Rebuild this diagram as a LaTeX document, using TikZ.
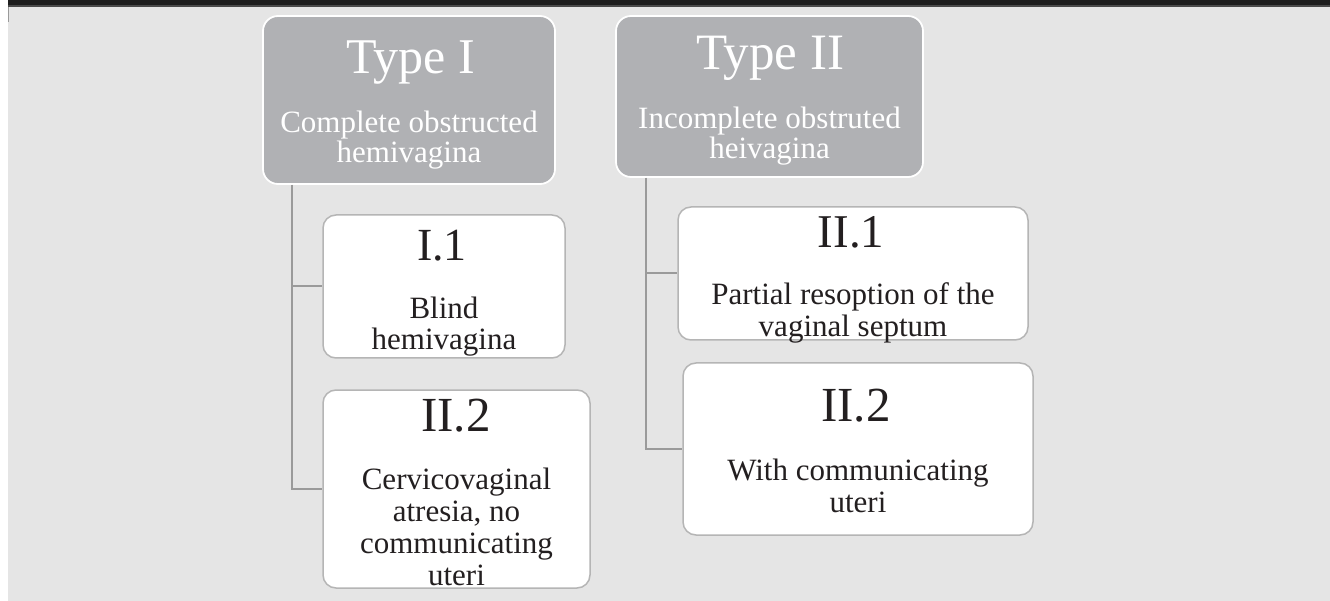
\documentclass[tikz,border=0pt]{standalone}
\usepackage{fontspec}
\setmainfont{Liberation Serif}
\usetikzlibrary{calc}
\definecolor{bggray}{HTML}{E5E5E5}
\definecolor{bardark}{HTML}{1E1E1E}
\definecolor{barlow}{HTML}{4A4A4A}
\definecolor{parentgray}{HTML}{B0B1B4}
\definecolor{bordergray}{HTML}{B5B5B5}
\definecolor{linegray}{HTML}{9A9A9A}
\definecolor{txtdark}{HTML}{231F20}
\tikzset{
  parentbox/.style={draw=white, fill=parentgray, line width=1.8pt, rounded corners=15pt, inner sep=0pt},
  childbox/.style={draw=bordergray, fill=white, line width=1.5pt, rounded corners=13pt, inner sep=0pt},
  conn/.style={draw=linegray, line width=2pt},
  ptitle/.style={text=white, font=\fontsize{50}{50}\selectfont, anchor=base, inner sep=0pt},
  pdesc/.style={text=white, font=\fontsize{31}{30.5}\selectfont, anchor=base, inner sep=0pt, align=center},
  ctitle/.style={text=txtdark, font=\fontsize{47}{47}\selectfont, anchor=base, inner sep=0pt},
  cdesc/.style={text=txtdark, font=\fontsize{31}{32}\selectfont, anchor=base, inner sep=0pt, align=center}
}
\begin{document}
\begin{tikzpicture}[x=1pt, y=-1pt]
\useasboundingbox (0,0) rectangle (1330,601);
% background
\fill[white] (0,0) rectangle (1330,601);
\fill[bggray] (8,7) rectangle (1330,601);
\fill[bardark] (8,0) rectangle (1330,5);
\fill[barlow] (8,5) rectangle (1330,7);
\draw[linegray, line width=0.8pt] (8.5,7) -- (8.5,22);

% boxes
\node[parentbox, minimum width=292pt, minimum height=168pt] (T1) at (409,100) {};
\node[parentbox, minimum width=307pt, minimum height=161pt] (T2) at (769.5,96.5) {};
\node[childbox, minimum width=242pt, minimum height=143pt] (C11) at (444,286.5) {};
\node[childbox, minimum width=267pt, minimum height=198pt] (C12) at (456.5,489) {};
\node[childbox, minimum width=350pt, minimum height=133pt] (C21) at (853,273.5) {};
\node[childbox, minimum width=350pt, minimum height=172pt] (C22) at (858,449) {};

% connectors
\draw[conn] ([xshift=30pt]T1.south west) |- (C11.west);
\draw[conn] ([xshift=30pt]T1.south west) |- (C12.west);
\draw[conn] ([xshift=31pt]T2.south west) |- (C21.west);
\draw[conn] ([xshift=31pt]T2.south west) |- (C22.west);

% texts (multi-line nodes: base anchor = last line baseline)
\node[ptitle] (T1t) at (411,74) {Type I};
\node[pdesc] (T1d) at (409,163) {Complete obstructed\\hemivagina};
\node[ptitle, font=\fontsize{51}{51}\selectfont] (T2t) at (770,70) {Type II};
\node[pdesc] (T2d) at (769.5,159) {Incomplete obstruted\\heivagina};

\node[ctitle, font=\fontsize{46}{46}\selectfont] (C11t) at (442,261) {I.1};
\node[cdesc] (C11d) at (444,350) {Blind\\hemivagina};

\node[ctitle, font=\fontsize{49}{49}\selectfont] (C12t) at (456,431) {II.2};
\node[cdesc] (C12d) at (456.5,585) {Cervicovaginal\\atresia, no\\communicating\\uteri};

\node[ctitle] (C21t) at (851,248) {II.1};
\node[cdesc] (C21d) at (853,337) {Partial resoption of the\\vaginal septum};

\node[ctitle, font=\fontsize{49}{49}\selectfont] (C22t) at (856,421) {II.2};
\node[cdesc] (C22d) at (858,512) {With communicating\\uteri};
\end{tikzpicture}
\end{document}
